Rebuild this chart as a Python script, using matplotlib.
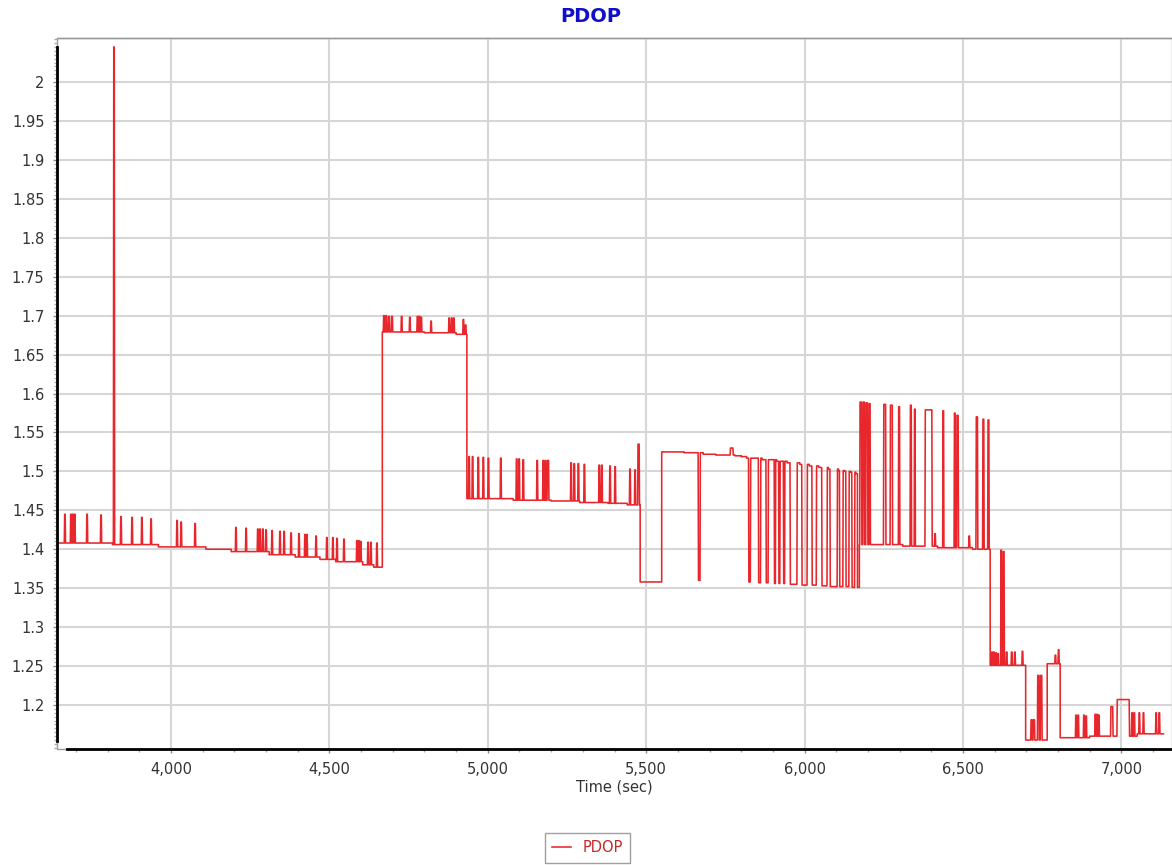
import matplotlib
matplotlib.use("Agg")
import matplotlib.pyplot as plt
from matplotlib.ticker import MultipleLocator, FuncFormatter
from matplotlib.patches import Rectangle

# Garis dasar PDOP (bertingkat): waktu mulai tiap tingkat dan nilainya
langkah_t = [3640, 3815, 3960, 4110, 4190, 4310, 4392, 4470, 4520, 4605, 4640,
             4667, 4800, 4900,
             4934, 5080, 5200, 5290, 5380, 5440,
             5481, 5549, 5620, 5680, 5720, 5780, 5800,
             5817, 5866, 5912, 5945, 5985, 6015, 6045, 6075, 6107, 6126, 6145, 6162, 6167,
             6173, 6310, 6420, 6530,
             6586, 6698, 6766, 6807, 6900, 7050]
langkah_v = [1.408, 1.406, 1.403, 1.400, 1.397, 1.393, 1.390, 1.387, 1.384, 1.380, 1.377,
             1.679, 1.678, 1.676,
             1.465, 1.463, 1.462, 1.460, 1.459, 1.457,
             1.358, 1.525, 1.524, 1.522, 1.521, 1.520, 1.519,
             1.517, 1.515, 1.513, 1.511, 1.509, 1.507, 1.505, 1.503, 1.501, 1.500, 1.499, 1.497, 1.351,
             1.406, 1.404, 1.402, 1.400,
             1.251, 1.155, 1.253, 1.158, 1.160, 1.163]
waktu_akhir = 7133

# Lonjakan (atau turunan) dari garis dasar: waktu mulai, waktu selesai, nilai puncak
pulsa_mulai = [3663, 3682, 3688, 3694, 3733, 3777, 3818, 3840, 3875, 3906, 3935,
               4017, 4030, 4074, 4203, 4235, 4272, 4279, 4288, 4298, 4317, 4342,
               4355, 4377, 4402, 4421, 4427, 4456, 4490, 4509, 4522, 4544, 4585,
               4591, 4597, 4620, 4629, 4648,
               4670, 4677, 4685, 4695, 4726, 4752, 4776, 4782, 4788, 4819, 4876,
               4884, 4891, 4921, 4928,
               4939, 4950, 4968, 4984, 5000, 5039, 5089, 5097, 5110, 5154, 5173,
               5180, 5187, 5261, 5271, 5284, 5303, 5350, 5358, 5384, 5400, 5447,
               5463, 5473,
               5664, 5765,
               5823, 5854, 5878, 5904, 5918, 5933, 5954, 5991, 6023, 6054, 6080,
               6110, 6130, 6149,
               6174, 6184, 6193, 6203, 6249, 6270, 6296, 6333, 6346, 6380, 6410,
               6436, 6472, 6480, 6518, 6541, 6562, 6578,
               6590, 6596, 6603, 6609, 6619, 6626, 6636, 6652, 6662, 6686,
               6714, 6721, 6735, 6744,
               6790, 6800,
               6855, 6862, 6880, 6887, 6916, 6922, 6927, 6966, 6986, 7032, 7039,
               7055, 7068, 7108, 7118]
pulsa_akhir = [3667, 3686, 3692, 3698, 3737, 3781, 3822, 3844, 3879, 3910, 3939,
               4021, 4034, 4078, 4207, 4239, 4276, 4283, 4292, 4302, 4321, 4346,
               4359, 4381, 4406, 4425, 4431, 4460, 4494, 4513, 4526, 4548, 4589,
               4595, 4601, 4624, 4633, 4652,
               4674, 4681, 4690, 4700, 4730, 4756, 4780, 4786, 4792, 4823, 4880,
               4888, 4895, 4925, 4932,
               4943, 4954, 4972, 4988, 5004, 5043, 5093, 5101, 5114, 5158, 5177,
               5184, 5193, 5265, 5275, 5288, 5307, 5354, 5362, 5388, 5404, 5451,
               5467, 5479,
               5671, 5775,
               5830, 5862, 5886, 5909, 5923, 5938, 5977, 6009, 6038, 6072, 6104,
               6122, 6141, 6159,
               6181, 6190, 6200, 6208, 6257, 6278, 6301, 6338, 6350, 6403, 6414,
               6440, 6476, 6486, 6522, 6547, 6567, 6583,
               6594, 6600, 6607, 6613, 6623, 6631, 6640, 6656, 6666, 6690,
               6719, 6727, 6741, 6750,
               6794, 6804,
               6859, 6866, 6884, 6891, 6920, 6926, 6931, 6974, 7026, 7036, 7043,
               7059, 7072, 7112, 7122]
pulsa_puncak = [1.445, 1.445, 1.445, 1.445, 1.445, 1.444, 2.045, 1.442, 1.441, 1.441, 1.439,
                1.437, 1.435, 1.433, 1.428, 1.427, 1.426, 1.426, 1.426, 1.425, 1.424, 1.423,
                1.423, 1.421, 1.420, 1.419, 1.419, 1.417, 1.415, 1.415, 1.414, 1.413, 1.411,
                1.411, 1.410, 1.409, 1.409, 1.408,
                1.700, 1.700, 1.699, 1.699, 1.699, 1.698, 1.699, 1.699, 1.698, 1.693, 1.697,
                1.697, 1.697, 1.695, 1.688,
                1.519, 1.519, 1.518, 1.518, 1.517, 1.517, 1.516, 1.516, 1.515, 1.514, 1.514,
                1.514, 1.514, 1.511, 1.510, 1.510, 1.509, 1.508, 1.508, 1.507, 1.506, 1.503,
                1.502, 1.535,
                1.360, 1.530,
                1.358, 1.357, 1.357, 1.356, 1.356, 1.356, 1.355, 1.354, 1.354, 1.353, 1.352,
                1.352, 1.352, 1.351,
                1.589, 1.589, 1.588, 1.587, 1.586, 1.585, 1.583, 1.585, 1.580, 1.579, 1.420,
                1.578, 1.575, 1.572, 1.417, 1.570, 1.567, 1.566,
                1.268, 1.268, 1.267, 1.266, 1.399, 1.397, 1.268, 1.268, 1.268, 1.269,
                1.181, 1.181, 1.238, 1.238,
                1.264, 1.271,
                1.187, 1.187, 1.187, 1.186, 1.188, 1.188, 1.187, 1.198, 1.207, 1.190, 1.190,
                1.190, 1.190, 1.190, 1.190]

label_y = [1.2, 1.25, 1.3, 1.35, 1.4, 1.45, 1.5, 1.55, 1.6, 1.65, 1.7,
           1.75, 1.8, 1.85, 1.9, 1.95, 2.0]


# Fungsi untuk menyusun titik-titik garis dari tingkat dasar dan lonjakan
def bangun_seri():
    waktu, nilai = [], []
    for i in range(len(langkah_t)):
        t0 = langkah_t[i]
        dasar = langkah_v[i]
        t1 = langkah_t[i + 1] if i + 1 < len(langkah_t) else waktu_akhir
        waktu.append(t0)
        nilai.append(dasar)
        # Menyisipkan lonjakan yang jatuh di dalam tingkat ini
        for s, e, p in zip(pulsa_mulai, pulsa_akhir, pulsa_puncak):
            if t0 <= s < t1:
                r = min(1.2, (e - s) / 3)
                waktu += [s, s + r, e - r, e]
                nilai += [dasar, p, p, dasar]
        waktu.append(t1)
        nilai.append(dasar)
    return waktu, nilai


# Fungsi untuk membuat grafik
def pembuatan_grafik():
    waktu, nilai = bangun_seri()

    fig = plt.figure(figsize=(11.72, 8.65), dpi=100)
    ax = fig.add_axes([57 / 1172, 1 - 749 / 865, 1115 / 1172, 711 / 865])

    ax.plot(waktu, nilai, color="#e8262b", lw=1.15, label="PDOP")

    # Batas sumbu
    ax.set_xlim(3640, 7160)
    ax.set_ylim(1.1435, 2.0565)

    # Tick dan label sumbu
    ax.xaxis.set_major_locator(MultipleLocator(500))
    ax.xaxis.set_minor_locator(MultipleLocator(100))
    ax.xaxis.set_major_formatter(FuncFormatter(lambda v, p: f"{v:,.0f}"))
    ax.set_yticks(label_y)
    ax.yaxis.set_minor_locator(MultipleLocator(0.005))
    ax.yaxis.set_major_formatter(FuncFormatter(lambda v, p: f"{v:g}"))
    ax.tick_params(which="major", direction="out", length=3, width=1,
                   color="#888888", labelsize=10.5, labelcolor="#333333", pad=6)
    ax.tick_params(which="minor", direction="out", length=2, width=1, color="#aaaaaa")

    # Garis grid
    ax.grid(True, which="major", color="#d6d6d6", lw=1.5)
    ax.set_axisbelow(True)

    # Bingkai dan sumbu
    ax.add_patch(Rectangle((0, 0), 1, 1, transform=ax.transAxes, fill=False,
                           edgecolor="#999999", lw=1, clip_on=False, zorder=0.5))
    ax.spines["right"].set_visible(False)
    ax.spines["top"].set_color("#999999")
    ax.spines["top"].set_linewidth(1)
    ax.spines["left"].set_color("black")
    ax.spines["left"].set_linewidth(2)
    ax.spines["left"].set_bounds(1.154, 2.045)
    ax.spines["bottom"].set_color("black")
    ax.spines["bottom"].set_linewidth(2)
    ax.spines["bottom"].set_bounds(3672, 7160)

    ax.set_xlabel("Time (sec)", fontsize=10.5, color="#333333", labelpad=2)

    # Judul
    fig.text(591 / 1172, 1 - 16 / 865, "PDOP", ha="center", va="center",
             fontsize=14, fontweight="bold", color="#0f0fcc")

    # Legenda di bawah
    fig.legend(loc="center", bbox_to_anchor=(587.5 / 1172, 1 - 848 / 865),
               frameon=True, fancybox=False, edgecolor="#888888",
               handlelength=1.3, fontsize=10.5, labelcolor="#c62828",
               borderpad=0.5)

    fig.savefig("out.png", dpi=100)


def main():
    pembuatan_grafik()


if __name__ == "__main__":
    main()
